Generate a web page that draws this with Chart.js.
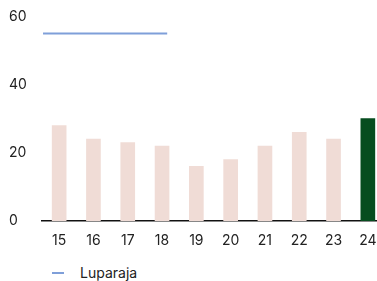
<!DOCTYPE html>
<html>
<head>
<meta charset="utf-8">
<script src="https://cdn.jsdelivr.net/npm/chart.js@4.4.1/dist/chart.umd.min.js"></script>
<style>
  html, body { margin: 0; padding: 0; background: #fff; }
  #wrap { position: relative; width: 377px; height: 281px; overflow: hidden; }
  #chart { position: absolute; left: 0; top: 0; }
  #legend { position: absolute; left: 52px; top: 264px; font: 14px Inter, sans-serif; color: #222; display: flex; align-items: center; }
  #legend .mark { width: 12px; height: 2px; background: #7f9fd9; margin-right: 16px; }
</style>
</head>
<body>
<div id="wrap">
  <canvas id="chart" width="400" height="261"></canvas>
  <div id="legend"><span class="mark"></span><span>Luparaja</span></div>
</div>
<script>
// ── Data ─────────────────────────────────────────────────────────────────────
const years = ['15', '16', '17', '18', '19', '20', '21', '22', '23', '24'];
const barValues = [28, 24, 23, 22, 16, 18, 22, 26, 24, 30];
const barColors = ['#f0dcd6', '#f0dcd6', '#f0dcd6', '#f0dcd6', '#f0dcd6', '#f0dcd6', '#f0dcd6', '#f0dcd6', '#f0dcd6', '#064d1f'];
const lineX = [-0.47, 0.6, 1.72, 3.15];
const lineY = [55, 55, 55, 55];
const yTicks = [0, 20, 40, 60];

const font = { family: 'Inter, sans-serif', size: 14 };

new Chart(document.getElementById('chart').getContext('2d'), {
    data: {
        labels: years,
        datasets: [
            {
                type: 'bar',
                label: 'bars',
                data: barValues,
                backgroundColor: barColors,
                barThickness: 14,
                grouped: false,
                xAxisID: 'x',
                order: 2
            },
            {
                type: 'line',
                label: 'Luparaja',
                data: lineX.map((x, i) => ({ x: x, y: lineY[i] })),
                borderColor: '#7f9fd9',
                borderWidth: 2,
                pointRadius: 0,
                xAxisID: 'x2',
                order: 1
            }
        ]
    },
    options: {
        responsive: false,
        animation: false,
        layout: { padding: { left: 9, right: 15, top: 16, bottom: 0 } },
        plugins: { legend: { display: false }, tooltip: { enabled: false } },
        scales: {
            x: {
                type: 'category',
                offset: true,
                grid: { display: false, drawTicks: false },
                border: { display: true, color: '#111', width: 1.5 },
                ticks: { color: '#222', font: font, padding: 11, maxRotation: 0 },
                afterFit: axis => { axis.height = 40; }
            },
            x2: {
                type: 'linear',
                display: false,
                min: -0.5,
                max: years.length - 0.5
            },
            y: {
                min: 0,
                max: 60,
                afterBuildTicks: axis => { axis.ticks = yTicks.map(v => ({ value: v })); },
                grid: { display: false, drawTicks: false },
                border: { display: false },
                ticks: { color: '#222', font: font, padding: 8, crossAlign: 'far' },
                afterFit: axis => { axis.width = 33; }
            }
        }
    }
});
</script>
</body>
</html>
